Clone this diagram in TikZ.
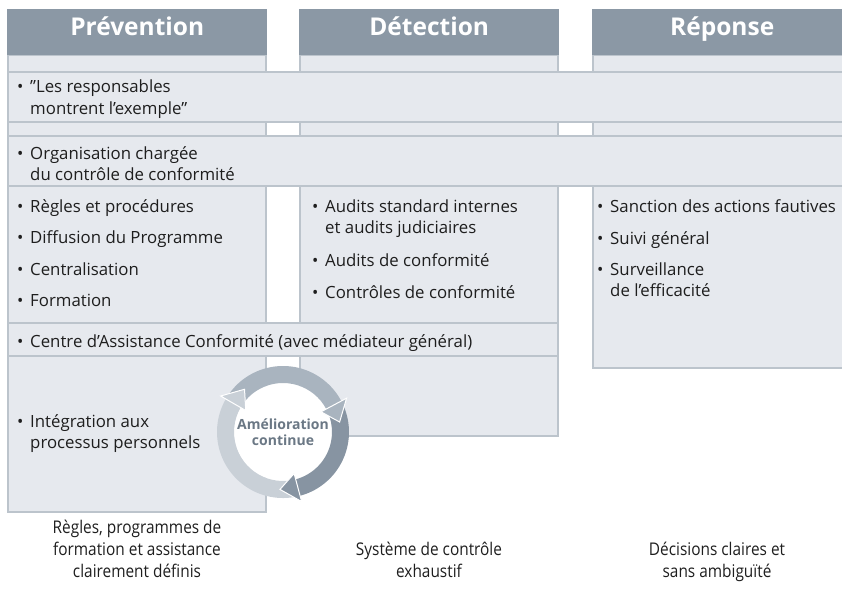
\documentclass[tikz,border=0pt]{standalone}
\usepackage{fontspec}
\setmainfont{Open Sans}
\newfontfamily\capfont[FakeStretch=0.88]{Open Sans}
\usetikzlibrary{positioning,calc}
\definecolor{hdrgray}{HTML}{8B98A5}
\definecolor{cellfill}{HTML}{E6E9EE}
\definecolor{cellline}{HTML}{BCC4CC}
\definecolor{ringtop}{HTML}{A9B4BF}
\definecolor{ringright}{HTML}{8794A2}
\definecolor{ringleft}{HTML}{C9D0D7}
\definecolor{ringtxt}{HTML}{6B7885}
\definecolor{txtdark}{HTML}{1E1E1E}
\newcommand{\bul}{\textbullet\hspace{0.4em}}
\newcommand{\ind}{\hphantom{\bul}}
% ring body from #2 to #3 (clockwise), notched at its start
\newcommand{\ringbody}[3]{%
  \fill[#1] (#2:66) arc[start angle=#2, end angle=#3, radius=66]
    -- (#3:49) arc[start angle=#3, end angle=#2, radius=49]
    -- ({#2-18}:57.5) -- cycle;}
\newcommand{\ringhead}[2]{%
  \filldraw[fill=#1, draw=white, line width=1pt] (#2:72) -- ({#2-18}:57.5) -- (#2:43) -- cycle;}

\begin{document}
\begin{tikzpicture}[x = 1pt, y = -1pt,
  cell/.style = {fill=cellfill, draw=cellline, line width=2pt},
  header/.style = {fill=hdrgray, text=white, anchor=north west, inner sep=0pt,
    minimum width=260pt, minimum height=46pt, text height=17pt, text depth=10pt,
    font=\fontsize{24.5}{28}\selectfont\bfseries},
  item/.style = {anchor=base west, align=left, inner sep=0pt, text=txtdark,
    font=\fontsize{16.8}{21}\selectfont},
  caption/.style = {anchor=base, align=center, inner sep=0pt, text=txtdark,
    font=\capfont\fontsize{17.5}{22}\selectfont}]
\useasboundingbox (0,0) rectangle (842,591);

% column bodies
\draw[cell] (8,55) rectangle (266,512);
\draw[cell] (300,55) rectangle (558,436);
\draw[cell] (593,55) rectangle (852,368);

% bands running across the columns
\draw[cell] (8,72) rectangle (852,122);
\draw[cell] (8,136) rectangle (852,186);
\draw[cell] (8,323) rectangle (558,356);

% headers
\node[header] (hdrP) at (7,9) {Prévention};
\node[header] (hdrD) at (299,9) {Détection};
\node[header] (hdrR) at (592,9) {Réponse};

% bands (multi-line nodes sit on their last baseline)
\node[item] (leaders) at (17,114) {\bul ”Les responsables\\\ind montrent l’exemple”};
\node[item] (orga) at (17,180) {\bul Organisation chargée\\\ind du contrôle de conformité};
\node[item] (helpdesk) at (17,347) {\bul Centre d’Assistance Conformité (avec médiateur général)};

% Prevention
\node[item] (regles) at (17,212) {\bul Règles et procédures};
\node[item] (diffusion) at (17,243) {\bul Diffusion du Programme};
\node[item] (central) at (17,275) {\bul Centralisation};
\node[item] (formation) at (17,306) {\bul Formation};
\node[item] (integration) at (17,448) {\bul Intégration aux\\\ind processus personnels};

% Detection
\node[item] (audits) at (312,233) {\bul Audits standard internes\\\ind et audits judiciaires};
\node[item] (auditsconf) at (312,266) {\bul Audits de conformité};
\node[item] (controles) at (312,298) {\bul Contrôles de conformité};

% Response
\node[item] (sanction) at (597,212) {\bul Sanction des actions fautives};
\node[item] (suivi) at (597,244) {\bul Suivi général};
\node[item] (surveil) at (597,296) {\bul Surveillance\\\ind de l’efficacité};

% improvement cycle
\begin{scope}[shift={(283,432)}, yscale=-1]
  \fill[white] (0,0) circle (49);
  \ringbody{ringtop}{150}{28}
  \ringbody{ringright}{28}{-75}
  \ringbody{ringleft}{-75}{-210}
  \ringhead{ringtop}{28}
  \ringhead{ringright}{-75}
  \ringhead{ringleft}{-210}
  \node[align=center, inner sep=0pt, text=ringtxt,
    font=\fontsize{14}{16}\selectfont\bfseries] (cycle) at (0,0) {Amélioration\\continue};
\end{scope}

% captions
\node[caption] (capP) at (137,577) {Règles, programmes de\\formation et assistance\\clairement définis};
\node[caption] (capD) at (429,577) {Système de contrôle\\exhaustif};
\node[caption] (capR) at (717,577) {Décisions claires et\\sans ambiguïté};
\end{tikzpicture}
\end{document}
